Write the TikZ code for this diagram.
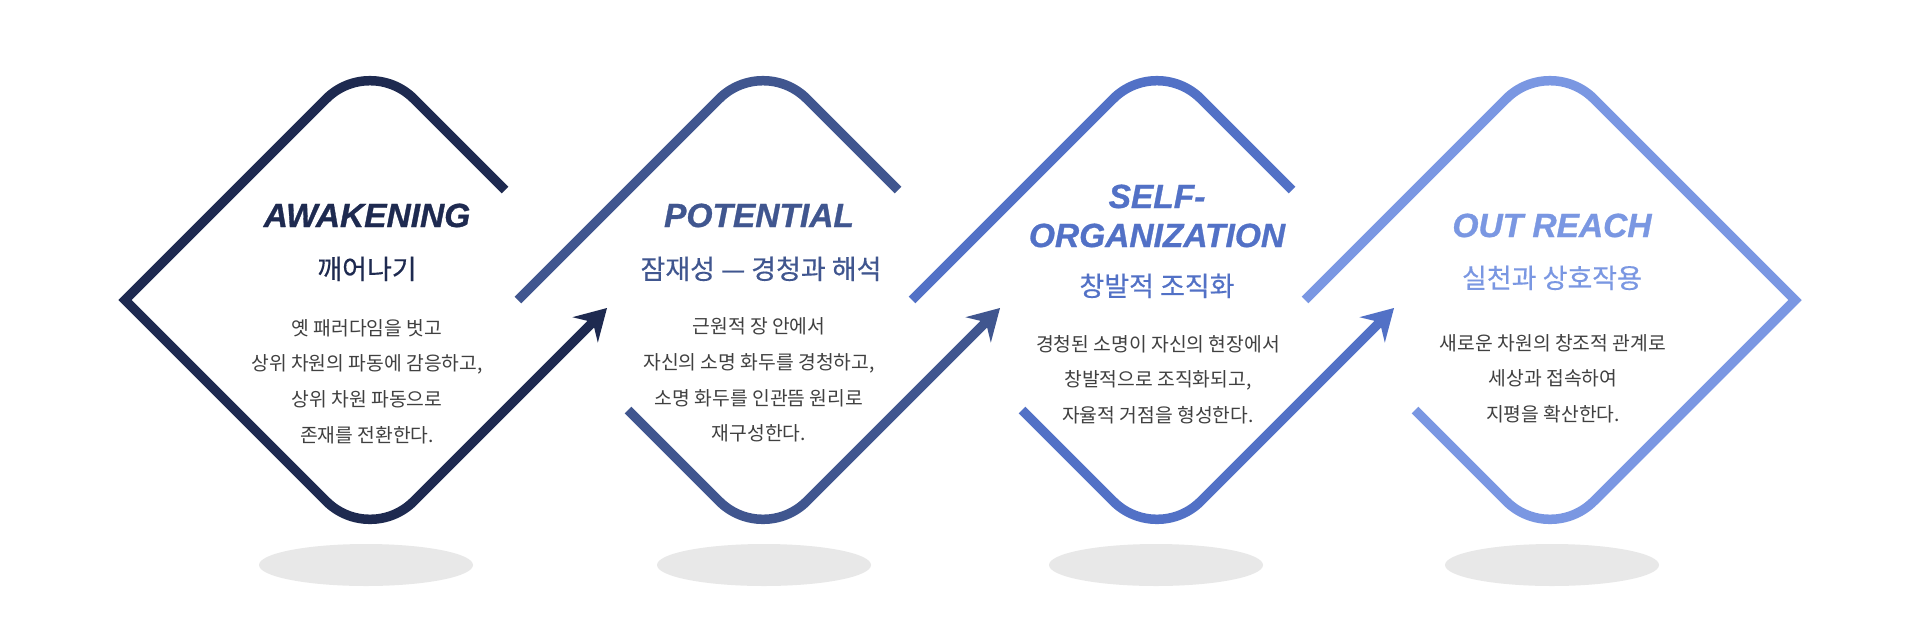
\documentclass[tikz,border=0pt]{standalone}
\usepackage{fontspec}
\setmainfont{Liberation Sans}
\newfontfamily\ttlfont{Liberation Sans}[BoldItalicFeatures={FakeBold=0.9}]
\newfontfamily\krfont{Noto Sans CJK KR}
\newfontfamily\krsub{Noto Sans CJK KR}[FakeBold=0.4]
\usetikzlibrary{arrows.meta}
\definecolor{cA}{HTML}{1E2A50}
\definecolor{cB}{HTML}{40568F}
\definecolor{cC}{HTML}{5271C6}
\definecolor{cD}{HTML}{7A97E2}
\definecolor{bodygray}{HTML}{404040}
\definecolor{shadowgray}{HTML}{E8E8E8}
\tikzset{
  edge/.style={line width=9.5pt, line cap=butt, line join=miter},
  arr/.style={-{Stealth[length=31pt,width=36pt,inset=11pt,line width=0pt]}},
  ttl/.style={font=\ttlfont\fontsize{33.5}{39}\selectfont\bfseries\itshape, inner sep=0pt, anchor=base},
  sub/.style={font=\krsub\fontsize{27}{30}\selectfont, inner sep=0pt, anchor=base},
  body/.style={font=\krfont\fontsize{19.3}{35.8}\selectfont, text=bodygray, inner sep=0pt, anchor=base},
  shadowfill/.style={fill=shadowgray, draw=none}
}
\begin{document}
\begin{tikzpicture}[x=1pt,y=-1pt]
\useasboundingbox (0,0) rectangle (1919,641);
\fill[white] (0,0) rectangle (1919,641);

% shadows
\fill[shadowfill] (366,565) ellipse [x radius=107pt, y radius=21pt];
\fill[shadowfill] (764,565) ellipse [x radius=107pt, y radius=21pt];
\fill[shadowfill] (1156,565) ellipse [x radius=107pt, y radius=21pt];
\fill[shadowfill] (1552,565) ellipse [x radius=107pt, y radius=21pt];

% ---------- diamond 1 ----------
\coordinate (d1g)  at (505,190);
\coordinate (d1tr) at (413.84,98.84);
\coordinate (d1l)  at (125,300);
\coordinate (d1bl) at (326.16,501.16);
\coordinate (d1tip) at (607,308);
\draw[edge, arr, cA] (d1g) -- (d1tr) arc[start angle=315, end angle=225, radius=62]
  -- (d1l) -- (d1bl) arc[start angle=135, end angle=45, radius=62] -- (d1tip);

% ---------- diamond 2 ----------
\coordinate (d2g)  at (898,190);
\coordinate (d2tr) at (806.84,98.84);
\coordinate (d2l)  at (518,300);
\coordinate (d2g2) at (628,410);
\coordinate (d2bl) at (719.16,501.16);
\coordinate (d2tip) at (1000,308);
\draw[edge, cB] (d2g) -- (d2tr) arc[start angle=315, end angle=225, radius=62] -- (d2l);
\draw[edge, arr, cB] (d2g2) -- (d2bl) arc[start angle=135, end angle=45, radius=62] -- (d2tip);

% ---------- diamond 3 ----------
\coordinate (d3g)  at (1292,190);
\coordinate (d3tr) at (1200.84,98.84);
\coordinate (d3l)  at (912,300);
\coordinate (d3g2) at (1022,410);
\coordinate (d3bl) at (1113.16,501.16);
\coordinate (d3tip) at (1394,308);
\draw[edge, cC] (d3g) -- (d3tr) arc[start angle=315, end angle=225, radius=62] -- (d3l);
\draw[edge, arr, cC] (d3g2) -- (d3bl) arc[start angle=135, end angle=45, radius=62] -- (d3tip);

% ---------- diamond 4 ----------
\coordinate (d4g2) at (1415,410);
\coordinate (d4bl) at (1506.16,501.16);
\coordinate (d4r)  at (1795,300);
\coordinate (d4tr) at (1593.84,98.84);
\coordinate (d4l)  at (1305,300);
\draw[edge, cD] (d4g2) -- (d4bl) arc[start angle=135, end angle=45, radius=62]
  -- (d4r) -- (d4tr) arc[start angle=315, end angle=225, radius=62] -- (d4l);

% ---------- texts ----------
\node[ttl, text=cA] (t1) at (367,227) {AWAKENING};
\node[sub, text=cA] (s1) at (367,279) {깨어나기};
\node[body] (b1) at (367,335) {\begin{tabular}[t]{@{}c@{}}옛 패러다임을 벗고\\상위 차원의 파동에 감응하고,\\상위 차원 파동으로\\존재를 전환한다.\end{tabular}};

\node[ttl, text=cB] (t2) at (759,227) {POTENTIAL};
\node[sub, text=cB] (s2) at (761,279) {잠재성 — 경청과 해석};
\node[body] (b2) at (759,333.5) {\begin{tabular}[t]{@{}c@{}}근원적 장 안에서\\자신의 소명 화두를 경청하고,\\소명 화두를 인관뜸 원리로\\재구성한다.\end{tabular}};

\node[ttl, text=cC] (t3) at (1157,208) {\begin{tabular}[t]{@{}c@{}}SELF-\\ORGANIZATION\end{tabular}};
\node[sub, text=cC] (s3) at (1157,296) {창발적 조직화};
\node[body] (b3) at (1158,351) {\begin{tabular}[t]{@{}c@{}}경청된 소명이 자신의 현장에서\\창발적으로 조직화되고,\\자율적 거점을 형성한다.\end{tabular}};

\node[ttl, text=cD] (t4) at (1552,237) {OUT REACH};
\node[sub, text=cD] (s4) at (1552,288) {실천과 상호작용};
\node[body] (b4) at (1553,350) {\begin{tabular}[t]{@{}c@{}}새로운 차원의 창조적 관계로\\세상과 접속하여\\지평을 확산한다.\end{tabular}};
\end{tikzpicture}
\end{document}
